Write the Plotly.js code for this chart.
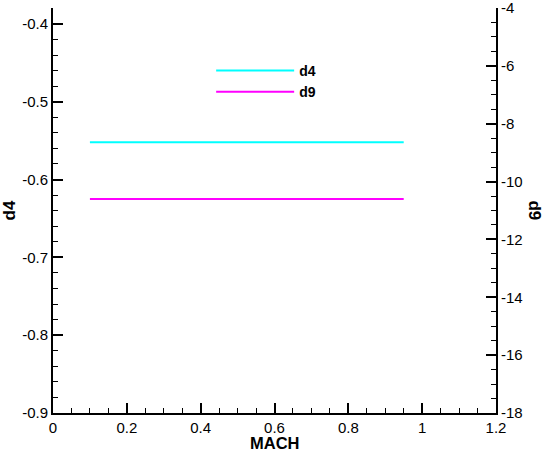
<!DOCTYPE html>
<html>
<head>
<meta charset="utf-8">
<script src="https://cdn.plot.ly/plotly-3.0.1.min.js"></script>
<style>html,body{margin:0;padding:0;background:#fff;}#chart{width:550px;height:453px;}</style>
</head>
<body>
<div id="chart"></div>
<script>
const mach = [0.1, 0.2, 0.3, 0.4, 0.5, 0.6, 0.7, 0.8, 0.9, 0.95];
const d4 = [-0.552, -0.552, -0.552, -0.552, -0.552, -0.552, -0.552, -0.552, -0.552, -0.552];
const d9 = [-10.6, -10.6, -10.6, -10.6, -10.6, -10.6, -10.6, -10.6, -10.6, -10.6];

const xTickVals = [0, 0.2, 0.4, 0.6, 0.8, 1, 1.2];
const xTickText = ["0", "0.2", "0.4", "0.6", "0.8", "1", "1.2"];
const y1TickVals = [-0.9, -0.8, -0.7, -0.6, -0.5, -0.4];
const y1TickText = ["-0.9", "-0.8", "-0.7", "-0.6", "-0.5", "-0.4"];
const y2TickVals = [-18, -16, -14, -12, -10, -8, -6, -4];
const y2TickText = ["-18", "-16", "-14", "-12", "-10", "-8", "-6", "-4"];

const FONT = "Liberation Sans, Arial, sans-serif";

const traces = [
  {x: mach, y: d4, name: "d4", type: "scatter", mode: "lines",
   line: {color: "#00FFFF", width: 2}, yaxis: "y"},
  {x: mach, y: d9, name: "d9", type: "scatter", mode: "lines",
   line: {color: "#FF00FF", width: 2}, yaxis: "y2"}
];

const axisCommon = {
  showgrid: false, zeroline: false, showline: true, linecolor: "#000", linewidth: 2,
  ticks: "inside", ticklen: 10, tickwidth: 2, tickcolor: "#000",
  ticklabeloverflow: "allow",
  tickfont: {family: FONT, size: 15, color: "#000"}
};

const layout = {
  width: 550, height: 453,
  margin: {l: 53, r: 54, t: 8, b: 40, pad: 0},
  paper_bgcolor: "#fff", plot_bgcolor: "#fff",
  font: {family: FONT, color: "#000"},
  showlegend: true,
  legend: {x: 0.357, y: 0.884, xanchor: "left", yanchor: "top",
           bgcolor: "rgba(0,0,0,0)", font: {family: FONT, size: 14, color: "#000", weight: "bold"},
           itemwidth: 78, tracegroupgap: 0},
  xaxis: Object.assign({}, axisCommon, {
    range: [0, 1.2], tickvals: xTickVals, ticktext: xTickText,
    minor: {dtick: 0.05, ticks: "inside", ticklen: 5, tickwidth: 1, tickcolor: "#000", showgrid: false}
  }),
  yaxis: Object.assign({}, axisCommon, {
    range: [-0.9, -0.3796], tickvals: y1TickVals, ticktext: y1TickText,
    minor: {dtick: 0.02, ticks: "inside", ticklen: 5, tickwidth: 1, tickcolor: "#000", showgrid: false},
    title: {text: "<b>d4</b>", font: {family: FONT, size: 17, color: "#000"}, standoff: 3}
  }),
  yaxis2: Object.assign({}, axisCommon, {
    overlaying: "y", side: "right", range: [-18, -3.998],
    tickvals: y2TickVals, ticktext: y2TickText,
    minor: {dtick: 0.5, ticks: "inside", ticklen: 5, tickwidth: 1, tickcolor: "#000", showgrid: false}
  }),
  annotations: [
    {text: "<b>d9</b>", xref: "paper", yref: "paper", x: 1.0858, y: 0.5,
     xanchor: "center", yanchor: "middle", showarrow: false, textangle: 90,
     font: {family: FONT, size: 17, color: "#000"}},
    {text: "<b>MACH</b>", xref: "paper", yref: "paper", x: 0.5, y: 0, yshift: -20,
     xanchor: "center", yanchor: "top", showarrow: false, borderpad: 0,
     font: {family: FONT, size: 16.5, color: "#000"}}
  ]
};

Plotly.newPlot("chart", traces, layout, {displayModeBar: false, staticPlot: true});
</script>
</body>
</html>
